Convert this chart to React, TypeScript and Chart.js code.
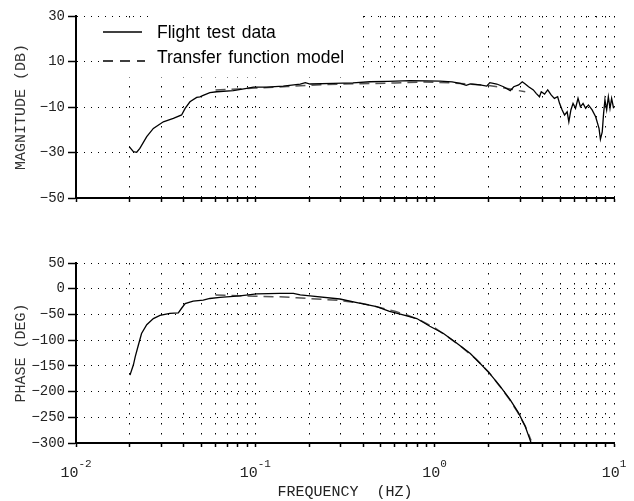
import React, { useEffect, useRef } from 'react';
import { Chart, registerables } from 'chart.js';

Chart.register(...registerables);

// ---------- DATA ----------
const flightMagFreq = [
  0.0198, 0.0209, 0.0218, 0.0227, 0.0248, 0.027, 0.0307, 0.0349, 0.0388, 0.0406,
  0.0432, 0.0471, 0.0491, 0.0512, 0.0558, 0.0609, 0.0754, 0.0896, 0.0975, 0.1158,
  0.143, 0.178, 0.19, 0.202, 0.272, 0.35, 0.435, 0.55, 0.73, 0.9,
  1.07, 1.25, 1.39, 1.5, 1.58, 1.79, 1.95, 2.03, 2.22, 2.42,
  2.64, 2.76, 2.94, 3.08, 3.2, 3.34, 3.55, 3.68, 3.84, 3.93,
  4.1, 4.27, 4.46, 4.65, 4.85, 4.97, 5.14, 5.3, 5.48, 5.6,
  5.75, 5.91, 6.1, 6.3, 6.5, 6.72, 6.95, 7.2, 7.55, 7.9,
  8.25, 8.4, 8.6, 8.75, 8.9, 9.1, 9.3, 9.5, 9.7, 9.95,
];
const flightMagDb = [
  -27.4, -29.6, -29.9, -28.2, -23.0, -19.4, -16.5, -15.0, -13.5, -10.6,
  -7.7, -5.8, -5.5, -4.9, -3.7, -3.3, -2.8, -1.8, -1.3, -1.3,
  -0.8, 0.1, 0.7, 0.1, 0.4, 0.6, 1.1, 1.3, 1.6, 1.5,
  1.4, 1.0, 0.4, -0.5, 0.2, -0.3, -0.8, 0.7, 0.1, -1.1,
  -2.8, -1.1, -0.3, 1.1, 0.1, -1.1, -2.5, -4.0, -5.5, -3.3,
  -4.3, -2.5, -4.7, -6.2, -5.5, -8.4, -11.3, -13.5, -12.1, -16.5,
  -11.3, -8.4, -10.6, -6.2, -9.9, -8.4, -10.6, -9.1, -11.3, -14.3,
  -19.4, -24.2, -20.9, -12.8, -6.9, -11.3, -5.5, -10.6, -6.2, -10.6,
];

const modelMagFreq = [0.06, 0.08, 0.1, 0.15, 0.2, 0.3, 0.45, 0.6, 0.85, 1.0, 1.3, 1.6, 2.0, 2.3, 2.8, 3.2];
const modelMagDb = [-2.5, -2.1, -1.7, -1.0, -0.5, 0.1, 0.3, 0.6, 1.0, 0.9, 0.5, 0.0, -0.6, -1.3, -2.5, -3.3];

const flightPhaseFreq = [
  0.02, 0.0209, 0.0214, 0.0223, 0.0232, 0.0248, 0.027, 0.0294, 0.0334, 0.0372,
  0.0388, 0.0406, 0.045, 0.0512, 0.0558, 0.0635, 0.082, 0.1016, 0.137, 0.163,
  0.178, 0.202, 0.296, 0.38, 0.475, 0.56, 0.667, 0.795, 0.94, 1.12,
  1.33, 1.58, 1.79, 2.03, 2.32, 2.64, 2.94, 3.2, 3.38, 3.45,
];
const flightPhaseDeg = [
  -168, -148, -132, -109, -87, -70, -58, -52, -48, -47,
  -38, -29, -24, -22, -19, -17, -14, -10, -9, -9,
  -12, -14, -20, -28, -35, -44, -51, -58, -73, -87,
  -106, -126, -145, -165, -190, -216, -242, -268, -291, -300,
];

const modelPhaseFreq = [0.06, 0.08, 0.1, 0.13, 0.17, 0.22, 0.3, 0.4, 0.5, 0.6, 0.7, 0.85, 1.0, 1.2, 1.4, 1.7, 2.0, 2.3, 2.6, 2.9, 3.2, 3.45];
const modelPhaseDeg = [-12, -13.5, -14.5, -15.5, -17.5, -20, -23, -29, -37, -44, -51, -63, -76, -95, -112, -137, -162, -189, -214, -240, -267, -295];

const magTicks = [-50, -30, -10, 10, 30];
const phaseTicks = [-300, -250, -200, -150, -100, -50, 0, 50];
const decadeStarts = [0.01, 0.1, 1];
const minorMultipliers = [1, 2, 3, 4, 5, 6, 7, 8, 9];
const decadeValues = [0.01, 0.1, 1, 10];
const decadeExponents = ['-2', '-1', '0', '1'];
const legendLabels = ['Flight test data', 'Transfer function model'];
const seriesNames = ['Flight test data', 'Transfer function model'];

// ---------- STYLE ----------
const MONO = '"Liberation Mono", "DejaVu Sans Mono", monospace';
const SANS = '"Liberation Sans", Arial, sans-serif';

const gridFreqs: number[] = [];
decadeStarts.forEach((d) => minorMultipliers.forEach((m) => gridFreqs.push(+(d * m).toPrecision(3))));
gridFreqs.push(10);

const pts = (xs: number[], ys: number[]) => xs.map((x, i) => ({ x, y: ys[i] }));
const fmt = (v: number) => String(v).replace('-', '\u2212');

function xScale(height: number, title?: string) {
  return {
    type: 'logarithmic',
    min: 0.01,
    max: 10,
    afterBuildTicks: (s: any) => {
      s.ticks = gridFreqs.map((v) => ({ value: v }));
    },
    afterFit: (s: any) => {
      s.height = height;
    },
    ticks: { display: false },
    grid: { color: '#000', lineWidth: 1, tickLength: 4, tickColor: '#000', tickWidth: 1.5 },
    border: { display: true, color: '#000', width: 2, dash: [1.5, 8.5] },
    title: title
      ? { display: true, text: title, font: { family: MONO, size: 15 }, color: '#222', padding: { top: 0, bottom: 0 } }
      : { display: false },
  };
}

function yScale(min: number, max: number, ticks: number[], title: string) {
  return {
    type: 'linear',
    min,
    max,
    afterBuildTicks: (s: any) => {
      s.ticks = ticks.map((v) => ({ value: v }));
    },
    afterFit: (s: any) => {
      s.width = 76;
    },
    ticks: { font: { family: MONO, size: 14 }, color: '#222', padding: 3, callback: (v: any) => fmt(Number(v)) },
    grid: { color: '#000', lineWidth: 1, tickLength: 8, tickColor: '#000', tickWidth: 1.5 },
    border: { display: true, color: '#000', width: 2, dash: [1, 6] },
    title: { display: true, text: title, font: { family: MONO, size: 15 }, color: '#333', padding: { top: 12, bottom: 0 } },
  };
}

function datasets(fx: number[], fy: number[], mx: number[], my: number[]) {
  return [
    { label: seriesNames[0], data: pts(fx, fy), borderColor: '#000', borderWidth: 1.3, pointRadius: 0, tension: 0, fill: false },
    { label: seriesNames[1], data: pts(mx, my), borderColor: '#555', borderWidth: 1.5, borderDash: [10, 6], pointRadius: 0, tension: 0, fill: false },
  ];
}

const legendPlugin = {
  id: 'boxLegend',
  afterDraw(chart: any) {
    const ctx = chart.ctx as CanvasRenderingContext2D;
    ctx.save();
    ctx.fillStyle = '#fff';
    ctx.fillRect(100, 19, 258, 58);
    ctx.fillRect(153, 12, 205, 8);
    ctx.strokeStyle = '#000';
    ctx.lineWidth = 1.5;
    ctx.beginPath();
    ctx.moveTo(103, 32);
    ctx.lineTo(142, 32);
    ctx.stroke();
    ctx.setLineDash([10, 7]);
    ctx.beginPath();
    ctx.moveTo(103, 61);
    ctx.lineTo(145, 61);
    ctx.stroke();
    ctx.setLineDash([]);
    ctx.fillStyle = '#000';
    ctx.font = `17.5px ${SANS}`;
    ctx.textBaseline = 'alphabetic';
    ctx.textAlign = 'left';
    try { (ctx as any).wordSpacing = '2px'; } catch (e) { /* ignore */ }
    ctx.fillText(legendLabels[0], 157, 38);
    ctx.fillText(legendLabels[1], 157, 63);
    ctx.restore();
  },
};

const decadeLabelPlugin = {
  id: 'decadeLabels',
  afterDraw(chart: any) {
    const xs = chart.scales.x;
    const ctx = chart.ctx as CanvasRenderingContext2D;
    ctx.save();
    ctx.fillStyle = '#222';
    ctx.textAlign = 'left';
    ctx.textBaseline = 'alphabetic';
    decadeValues.forEach((v, i) => {
      const x = xs.getPixelForValue(v);
      ctx.font = `15px ${MONO}`;
      const w1 = ctx.measureText('10').width;
      ctx.font = `11px ${MONO}`;
      const w2 = ctx.measureText(decadeExponents[i]).width;
      const start = x - (w1 + w2) / 2;
      ctx.font = `15px ${MONO}`;
      ctx.fillText('10', start, 237);
      ctx.font = `11px ${MONO}`;
      ctx.fillText(decadeExponents[i], start + w1, 227);
    });
    ctx.restore();
  },
};

export default function App() {
  const topRef = useRef<HTMLCanvasElement>(null);
  const botRef = useRef<HTMLCanvasElement>(null);

  useEffect(() => {
    const common = {
      animation: false,
      responsive: false,
      devicePixelRatio: 1,
      plugins: { legend: { display: false }, tooltip: { enabled: false } },
    };
    const top = new Chart(topRef.current as HTMLCanvasElement, {
      type: 'line',
      data: { datasets: datasets(flightMagFreq, flightMagDb, modelMagFreq, modelMagDb) as any },
      options: {
        ...common,
        layout: { padding: { left: 0, right: 20, top: 16, bottom: 0 } },
        scales: {
          x: xScale(42) as any,
          y: yScale(-50, 30, magTicks, 'MAGNITUDE (DB)') as any,
        },
      } as any,
      plugins: [legendPlugin],
    });
    const bot = new Chart(botRef.current as HTMLCanvasElement, {
      type: 'line',
      data: { datasets: datasets(flightPhaseFreq, flightPhaseDeg, modelPhaseFreq, modelPhaseDeg) as any },
      options: {
        ...common,
        layout: { padding: { left: 0, right: 20, top: 23, bottom: 0 } },
        scales: {
          x: xScale(58, 'FREQUENCY  (HZ)') as any,
          y: yScale(-300, 50, phaseTicks, 'PHASE (DEG)') as any,
        },
      } as any,
      plugins: [decadeLabelPlugin],
    });
    return () => {
      top.destroy();
      bot.destroy();
    };
  }, []);

  return (
    <div style={{ position: 'absolute', left: 0, top: 0, width: 634, height: 501, background: '#fff' }}>
      <canvas ref={topRef} width={634} height={240} style={{ position: 'absolute', left: 0, top: 0 }} />
      <canvas ref={botRef} width={634} height={261} style={{ position: 'absolute', left: 0, top: 240 }} />
    </div>
  );
}
